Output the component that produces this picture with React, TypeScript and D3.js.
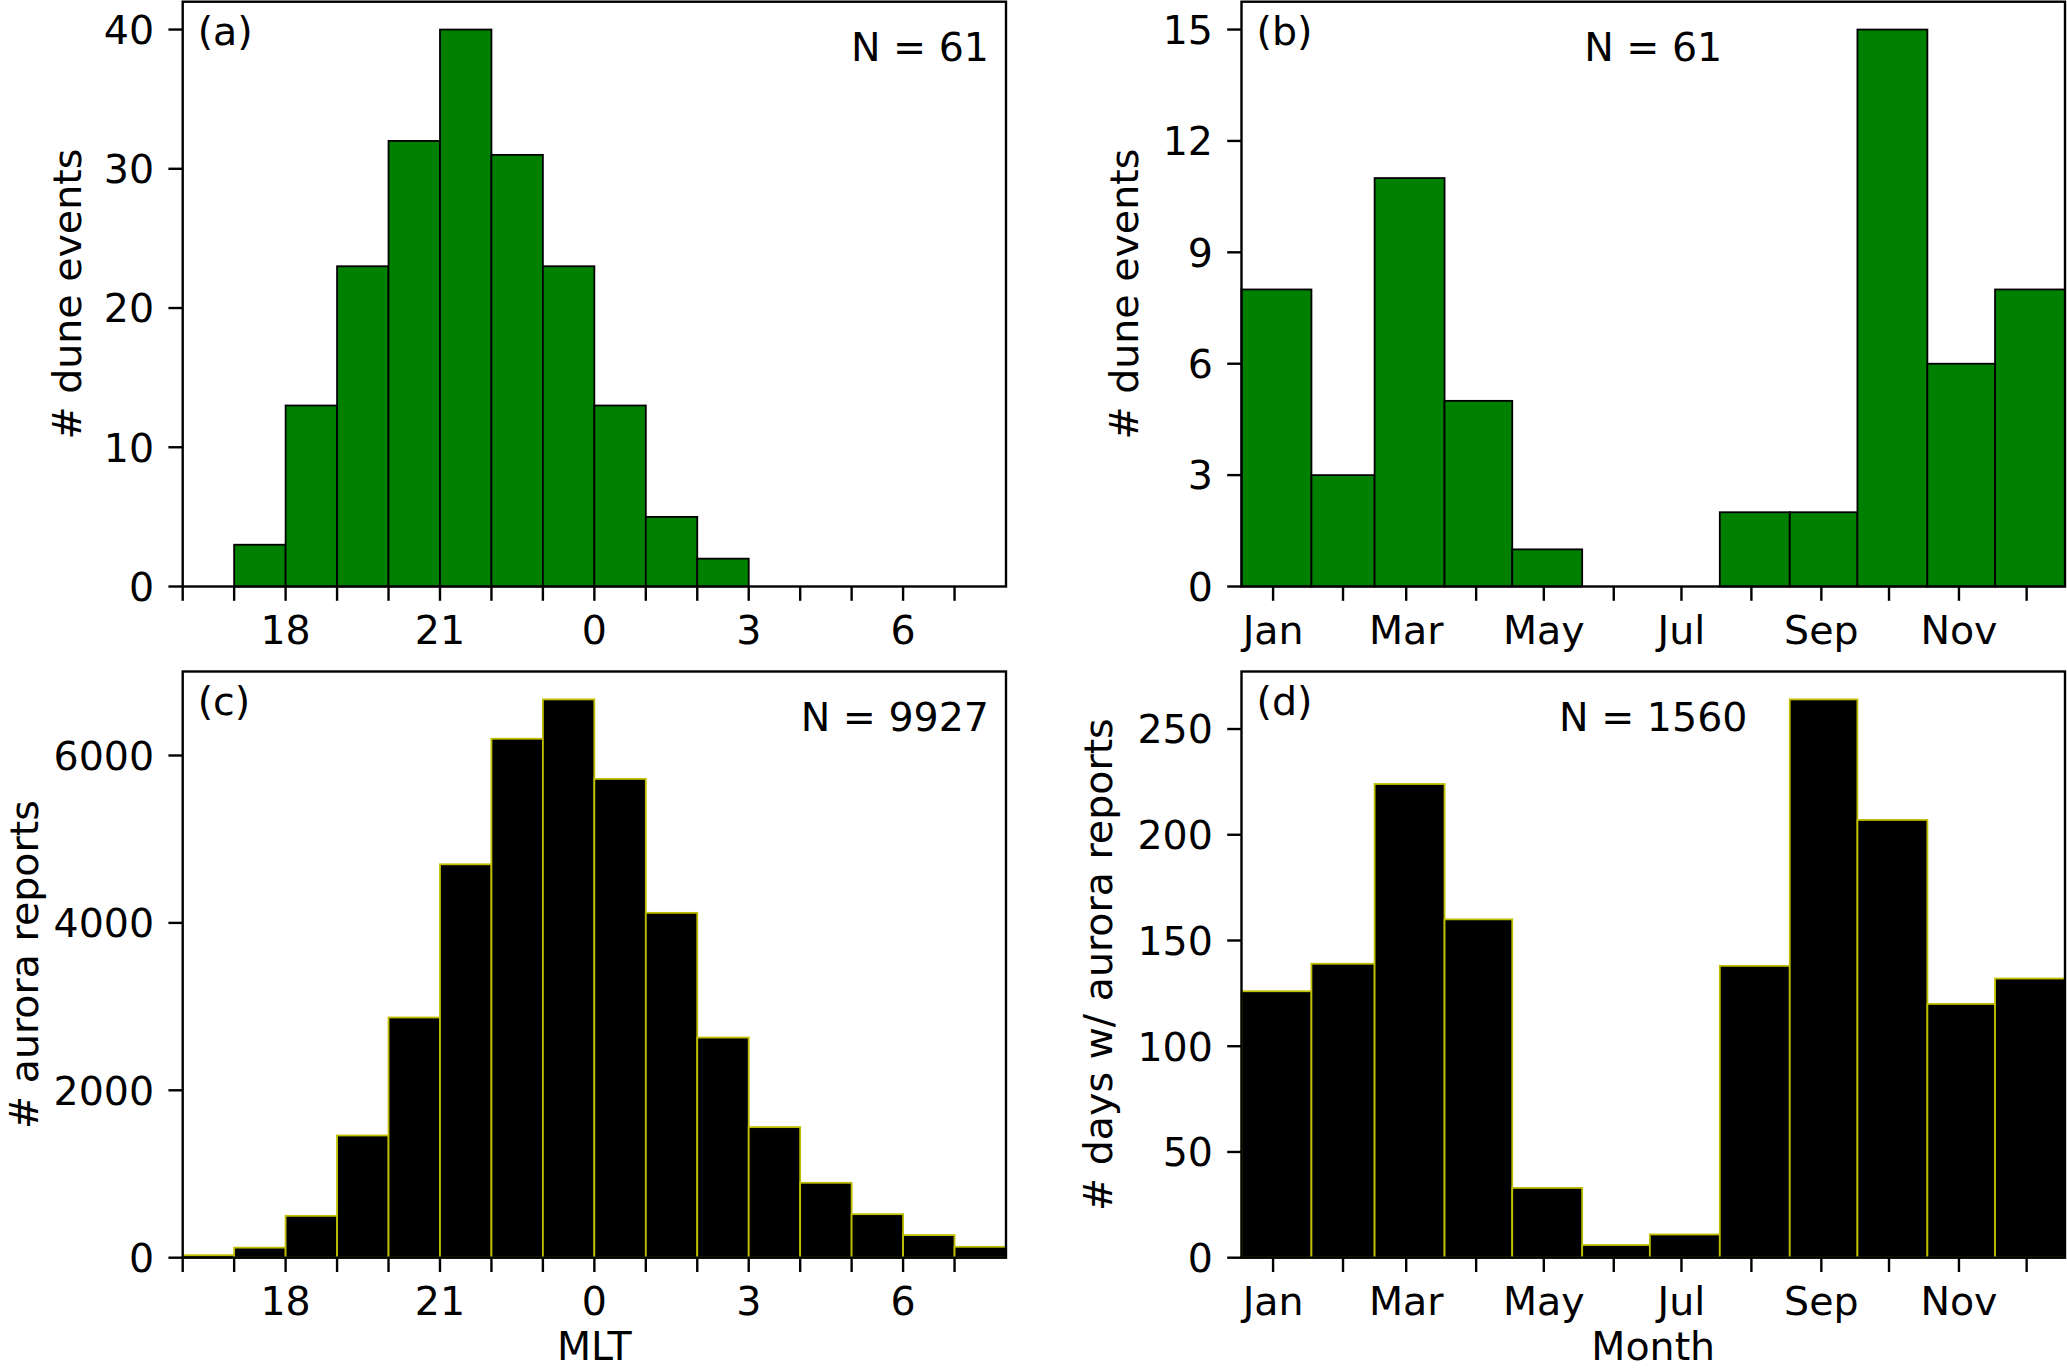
import React, { useRef, useEffect } from "react";
import * as d3 from "d3";

// MLT bins are one hour wide, starting at 16 MLT (16..31, where 24+ wraps to 0..7)
const hourStarts = [16, 17, 18, 19, 20, 21, 22, 23, 24, 25, 26, 27, 28, 29, 30, 31];
const duneMlt = [0, 3, 13, 23, 32, 40, 31, 23, 13, 5, 2, 0, 0, 0, 0, 0];
const auroraMlt = [30, 120, 500, 1460, 2870, 4700, 6200, 6670, 5720, 4120, 2630, 1560, 895, 520, 270, 130];

const months = ["Jan", "Feb", "Mar", "Apr", "May", "Jun", "Jul", "Aug", "Sep", "Oct", "Nov", "Dec"];
const duneMonth = [8, 3, 11, 5, 1, 0, 0, 2, 2, 15, 6, 8];
const auroraMonth = [126, 139, 224, 160, 33, 6, 11, 138, 264, 207, 120, 132];

const yTicksA = [0, 10, 20, 30, 40];
const yTicksB = [0, 3, 6, 9, 12, 15];
const yTicksC = [0, 2000, 4000, 6000];
const yTicksD = [0, 50, 100, 150, 200, 250];

const W = 2067;
const H = 1369;
const FONT = "DejaVu Sans, Liberation Sans, sans-serif";
const FS = 39.5;
const TICK = 14.3;
const GREEN = "#008000";
const YELLOW = "#bfbf00";

type Bar = { a: number; b: number; v: number };
type Tick = { v: number; label: string };

type PanelCfg = {
    x0: number; x1: number; y0: number; y1: number;
    x: (d: any) => number;
    bars: Bar[];
    yMax: number;
    yTicks: number[];
    xTicks: Tick[];
    fill: string;
    stroke: string;
    letter: string;
    nText: string;
    nAnchor: "end" | "middle";
    ylabel: string;
    ylabelX: number;
    xlabel?: string;
};

function drawPanel(root: d3.Selection<SVGSVGElement, unknown, null, undefined>, c: PanelCfg) {
    const y = d3.scaleLinear().domain([0, c.yMax]).range([c.y1, c.y0]);
    const g = root.append("g");

    // bars
    g.selectAll("rect.bar")
        .data(c.bars)
        .enter()
        .append("rect")
        .attr("class", "bar")
        .attr("x", (d) => c.x(d.a))
        .attr("width", (d) => c.x(d.b) - c.x(d.a))
        .attr("y", (d) => y(d.v))
        .attr("height", (d) => y(0) - y(d.v))
        .attr("fill", c.fill)
        .attr("stroke", c.stroke)
        .attr("stroke-width", 1.8);

    // frame
    g.append("rect")
        .attr("x", c.x0)
        .attr("y", c.y0)
        .attr("width", c.x1 - c.x0)
        .attr("height", c.y1 - c.y0)
        .attr("fill", "none")
        .attr("stroke", "#000")
        .attr("stroke-width", 2.4);

    // y ticks
    const yt = g.selectAll("g.yt").data(c.yTicks).enter().append("g");
    yt.append("line")
        .attr("x1", c.x0 - TICK)
        .attr("x2", c.x0)
        .attr("y1", (d) => y(d))
        .attr("y2", (d) => y(d))
        .attr("stroke", "#000")
        .attr("stroke-width", 2.4);
    yt.append("text")
        .attr("x", c.x0 - 2 * TICK)
        .attr("y", (d) => y(d) + 14.3)
        .attr("text-anchor", "end")
        .text((d) => String(d));

    // x ticks
    const xt = g.selectAll("g.xt").data(c.xTicks).enter().append("g");
    xt.append("line")
        .attr("x1", (d) => c.x(d.v))
        .attr("x2", (d) => c.x(d.v))
        .attr("y1", c.y1)
        .attr("y2", c.y1 + TICK)
        .attr("stroke", "#000")
        .attr("stroke-width", 2.4);
    xt.append("text")
        .attr("x", (d) => c.x(d.v))
        .attr("y", c.y1 + 57.5)
        .attr("text-anchor", "middle")
        .text((d) => d.label);

    // annotations
    g.append("text").attr("x", c.x0 + 15).attr("y", c.y0 + 43.5).text(c.letter);
    g.append("text")
        .attr("x", c.nAnchor === "end" ? c.x1 - 17 : (c.x0 + c.x1) / 2)
        .attr("y", c.y0 + 59.5)
        .attr("text-anchor", c.nAnchor)
        .text(c.nText);

    // axis labels
    g.append("text")
        .attr("transform", `translate(${c.ylabelX}, ${(c.y0 + c.y1) / 2}) rotate(-90)`)
        .attr("text-anchor", "middle")
        .text(c.ylabel);
    if (c.xlabel) {
        g.append("text")
            .attr("x", (c.x0 + c.x1) / 2)
            .attr("y", H - 9)
            .attr("text-anchor", "middle")
            .text(c.xlabel);
    }
}

export default function App() {
    const ref = useRef<SVGSVGElement | null>(null);

    useEffect(() => {
        if (!ref.current) return;
        const svg = d3.select(ref.current);
        svg.selectAll("*").remove();
        svg.attr("font-family", FONT).attr("font-size", FS).attr("fill", "#000");

        const left = { x0: 182.7, x1: 1006 };
        const right = { x0: 1241.5, x1: 2065 };
        const top = { y0: 1.7, y1: 586.5 };
        const bottom = { y0: 671.5, y1: 1257.7 };

        const xHour = (r: { x0: number; x1: number }) =>
            d3.scaleLinear().domain([16, 32]).range([r.x0, r.x1]);
        const xMonth = (r: { x0: number; x1: number }) =>
            d3.scaleTime().domain([new Date(2001, 0, 1), new Date(2002, 0, 1)]).range([r.x0, r.x1]);

        const hourTicks: Tick[] = hourStarts.map((h) => ({
            v: h,
            label: h % 3 === 0 ? String(h % 24) : "",
        }));
        const monthTicks: Tick[] = months.map((m, i) => ({
            v: +new Date(2001, i, 15),
            label: i % 2 === 0 ? m : "",
        }));
        const hourBars = (vals: number[]): Bar[] =>
            hourStarts.map((h, i) => ({ a: h, b: h + 1, v: vals[i] }));
        const monthBars = (vals: number[]): Bar[] =>
            months.map((_, i) => ({ a: +new Date(2001, i, 1), b: +new Date(2001, i + 1, 1), v: vals[i] }));

        const xa = xHour(left);
        const xb = xMonth(right);
        const xc = xHour(left);
        const xd = xMonth(right);

        drawPanel(svg, {
            ...left, ...top,
            x: (d) => xa(d),
            bars: hourBars(duneMlt),
            yMax: d3.max(duneMlt)! * 1.05,
            yTicks: yTicksA,
            xTicks: hourTicks,
            fill: GREEN, stroke: "#000",
            letter: "(a)", nText: "N = 61", nAnchor: "end",
            ylabel: "# dune events", ylabelX: 81,
        });
        drawPanel(svg, {
            ...right, ...top,
            x: (d) => xb(new Date(d)),
            bars: monthBars(duneMonth),
            yMax: d3.max(duneMonth)! * 1.05,
            yTicks: yTicksB,
            xTicks: monthTicks,
            fill: GREEN, stroke: "#000",
            letter: "(b)", nText: "N = 61", nAnchor: "middle",
            ylabel: "# dune events", ylabelX: 1137.5,
        });
        drawPanel(svg, {
            ...left, ...bottom,
            x: (d) => xc(d),
            bars: hourBars(auroraMlt),
            yMax: d3.max(auroraMlt)! * 1.05,
            yTicks: yTicksC,
            xTicks: hourTicks,
            fill: "#000", stroke: YELLOW,
            letter: "(c)", nText: "N = 9927", nAnchor: "end",
            ylabel: "# aurora reports", ylabelX: 38,
            xlabel: "MLT",
        });
        drawPanel(svg, {
            ...right, ...bottom,
            x: (d) => xd(new Date(d)),
            bars: monthBars(auroraMonth),
            yMax: d3.max(auroraMonth)! * 1.05,
            yTicks: yTicksD,
            xTicks: monthTicks,
            fill: "#000", stroke: YELLOW,
            letter: "(d)", nText: "N = 1560", nAnchor: "middle",
            ylabel: "# days w/ aurora reports", ylabelX: 1111.7,
            xlabel: "Month",
        });
    }, []);

    return (
        <svg
            ref={ref}
            width={W}
            height={H}
            viewBox={`0 0 ${W} ${H}`}
            style={{ position: "absolute", left: 0, top: 0, background: "#fff" }}
        />
    );
}
